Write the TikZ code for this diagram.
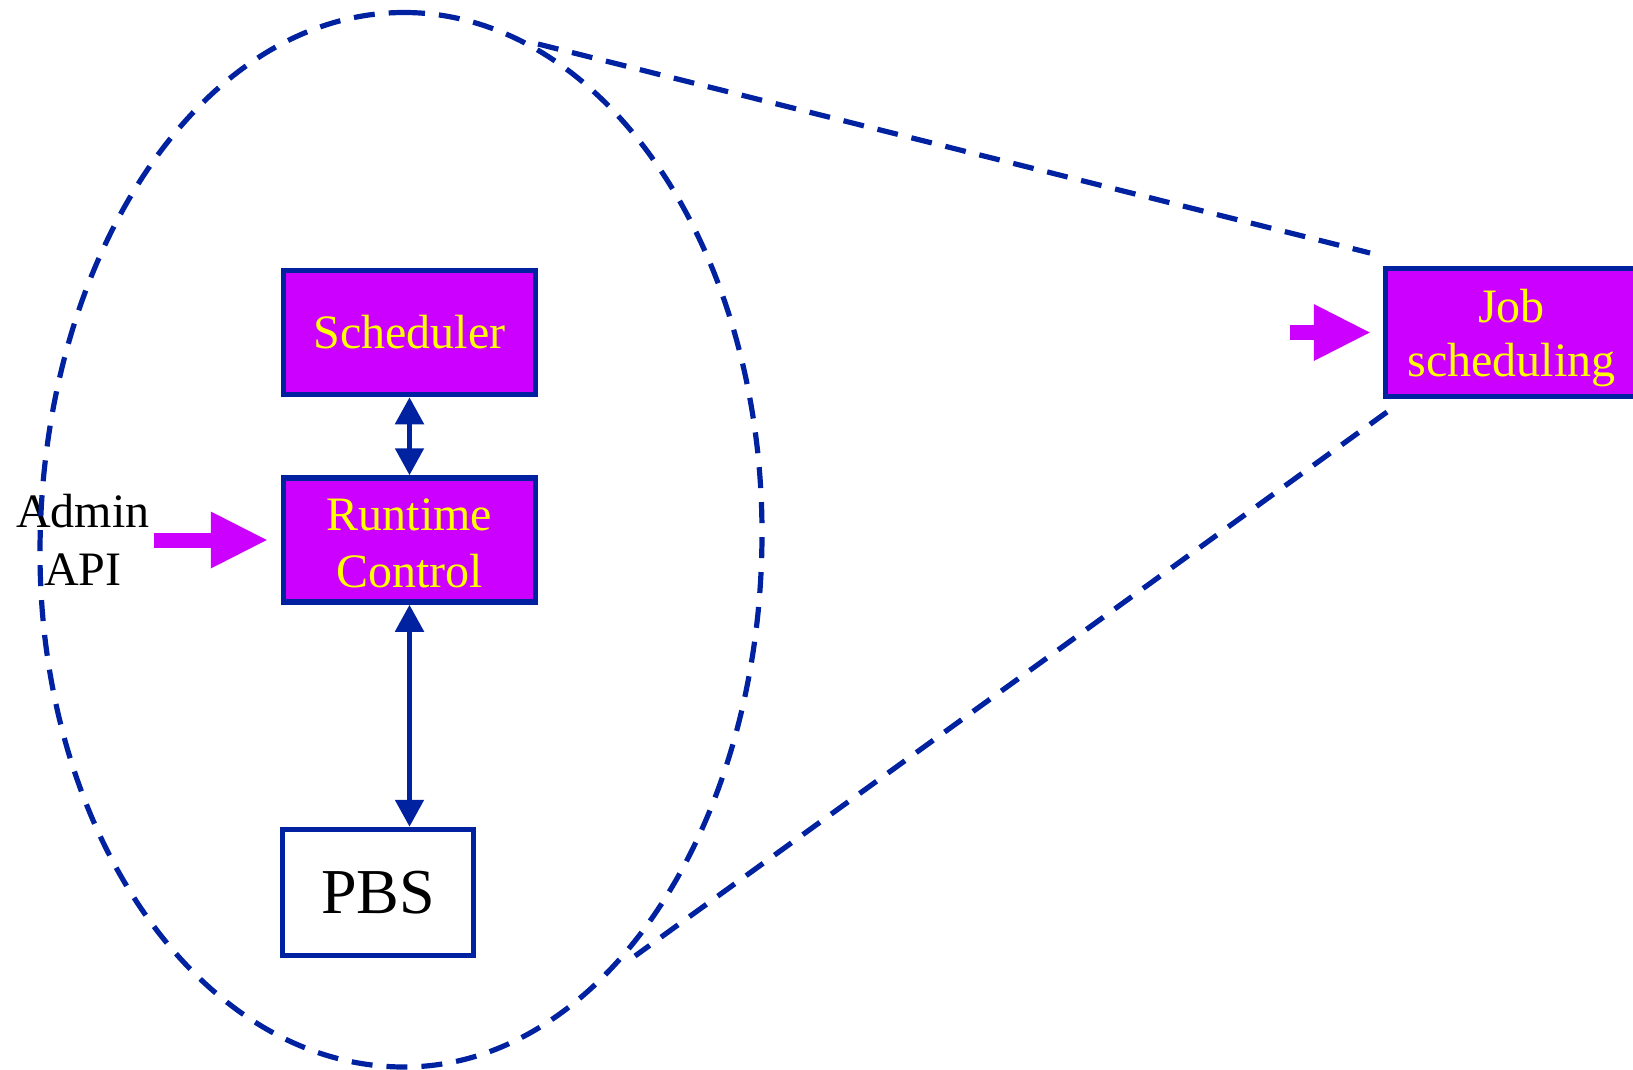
\documentclass[tikz,border=0pt]{standalone}
\usepackage{fontspec}
\setmainfont{Liberation Serif}
\usetikzlibrary{arrows.meta}
\definecolor{linkblue}{RGB}{0,34,160}
\definecolor{boxmagenta}{RGB}{204,0,255}
\definecolor{labelyellow}{RGB}{255,255,0}

\begin{document}
\begin{tikzpicture}[x=0.5pt,y=-0.5pt,
  unit/.style={draw=linkblue, line width=2.75pt, fill=boxmagenta, text=labelyellow,
    minimum width=126pt, minimum height=62pt, inner sep=0pt, align=center,
    font=\fontsize{24}{28.25}\selectfont},
  plainbox/.style={draw=linkblue, line width=2.75pt, fill=white,
    minimum width=95.5pt, minimum height=63pt, inner sep=0pt,
    font=\fontsize{32}{38}\selectfont},
  link/.style={draw=linkblue, line width=2.6pt,
    {Triangle[length=13.5pt,width=14pt]}-{Triangle[length=13.5pt,width=14pt]}},
  feed/.style={draw=boxmagenta, line width=7.5pt,
    -{Triangle[length=28pt,width=28.5pt,line width=0pt]}},
  zoomline/.style={draw=linkblue, line width=2.6pt, dash pattern=on 10.5pt off 7pt}
]
\useasboundingbox (0,0) rectangle (1633,1070);
\fill[white] (0,0) rectangle (1633,1070);

% component boxes
\node[unit] (sched) at (409.5,332.5) {Scheduler};
\node[unit] (rt) at (409.5,540) {Runtime\rule{0pt}{19pt}\\Control};
\node[plainbox] (pbs) at (378,892.5) {PBS};
\node[unit, minimum height=64pt, font=\fontsize{24}{27}\selectfont] (job) at (1511.5,332.5)
  {Job\rule{0pt}{22pt}\\scheduling};
\node[font=\fontsize{24}{29}\selectfont, align=center, inner sep=0pt] (admin) at (83,540) {Admin\\API};

% control links
\draw[link] (sched.south) -- (rt.north);
\draw[link] (rt.south) -- (rt.south |- pbs.north);

% inputs
\coordinate (adminfeed) at (154,540);
\draw[feed, shorten >=7pt] (adminfeed) -- (rt.west);
\coordinate (jobfeed) at (1290,332.5);
\draw[feed, shorten >=6.5pt] (jobfeed) -- (job.west);

% zoom outline around the detailed view (four quarter arcs)
\coordinate (etop) at (404,12.5);
\coordinate (eright) at (762,533);
\coordinate (ebottom) at (404,1067);
\coordinate (eleft) at (40,553);
\draw[zoomline] (etop)
  .. controls (601.7,12.5) and (762,245.8) .. (eright)
  .. controls (762,827.9) and (601.7,1067) .. (ebottom)
  .. controls (203,1067) and (40,836.9) .. (eleft)
  .. controls (40,254.8) and (203,12.5) .. cycle;
\coordinate (zt1) at (538,44);
\coordinate (zt2) at (1370,253);
\coordinate (zb1) at (1387,412);
\coordinate (zb2) at (635,956);
\draw[zoomline] (zt1) -- (zt2);
\draw[zoomline] (zb1) -- (zb2);
\end{tikzpicture}
\end{document}
